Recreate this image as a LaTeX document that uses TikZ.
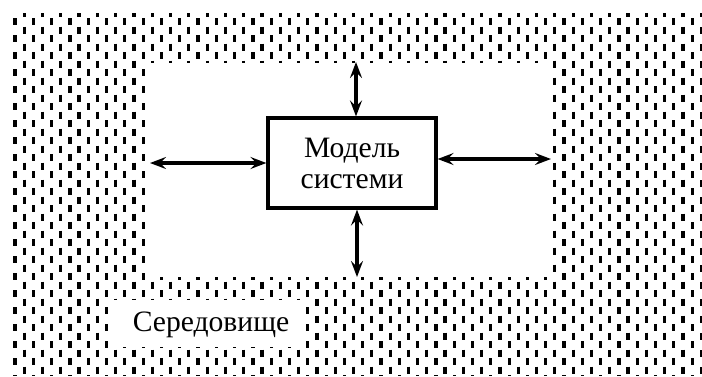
\documentclass[tikz,border=0pt]{standalone}
\usepackage{fontspec}
\setmainfont{Liberation Serif}
\usetikzlibrary{arrows.meta,positioning}

\tikzset{
  grain/.style={line width=1.6pt,dash pattern=on 3.5pt off 5pt},
  link/.style={{Stealth[length=8pt,width=6pt,inset=3pt]}-{Stealth[length=8pt,width=6pt,inset=3pt]},line width=1.6pt},
  blank/.style={fill=white,inner sep=0pt}
}

\begin{document}
\begin{tikzpicture}[x=0.5pt,y=-0.5pt,font=\fontsize{14.8}{15.5}\selectfont]
\useasboundingbox (0,0) rectangle (702,376);
% environment texture
\foreach \i in {0,...,75}{
  \pgfmathsetmacro\px{15+9.15*\i}
  \ifodd\i \def\py{13}\def\ph{1.75pt}\else \def\py{18}\def\ph{0pt}\fi
  \draw[grain,dash phase=\ph] (\px,\py) -- (\px,376);
}
% system area and label
\node[blank,minimum width=201.5pt,minimum height=107pt] (area) at (351.5,170) {};
\node[blank,minimum width=96pt,minimum height=23.5pt] (env) at (208,323.5) {};
\node (envtext) at (211,325) {Середовище};
% model
\node[draw,line width=1.6pt,fill=white,minimum width=84pt,minimum height=45pt,align=center] (model) at (352,163) {Модель\\системи};

\coordinate (N) at (356,62);
\coordinate (S) at (357,277);
\coordinate (W) at (150,163);
\coordinate (E) at (551,159);

\draw[link] (model.north -| N) -- (N);
\draw[link] (model.south -| S) -- (S);
\draw[link] (model.west |- W) -- (W);
\draw[link] (model.east |- E) -- (E);
\end{tikzpicture}
\end{document}
